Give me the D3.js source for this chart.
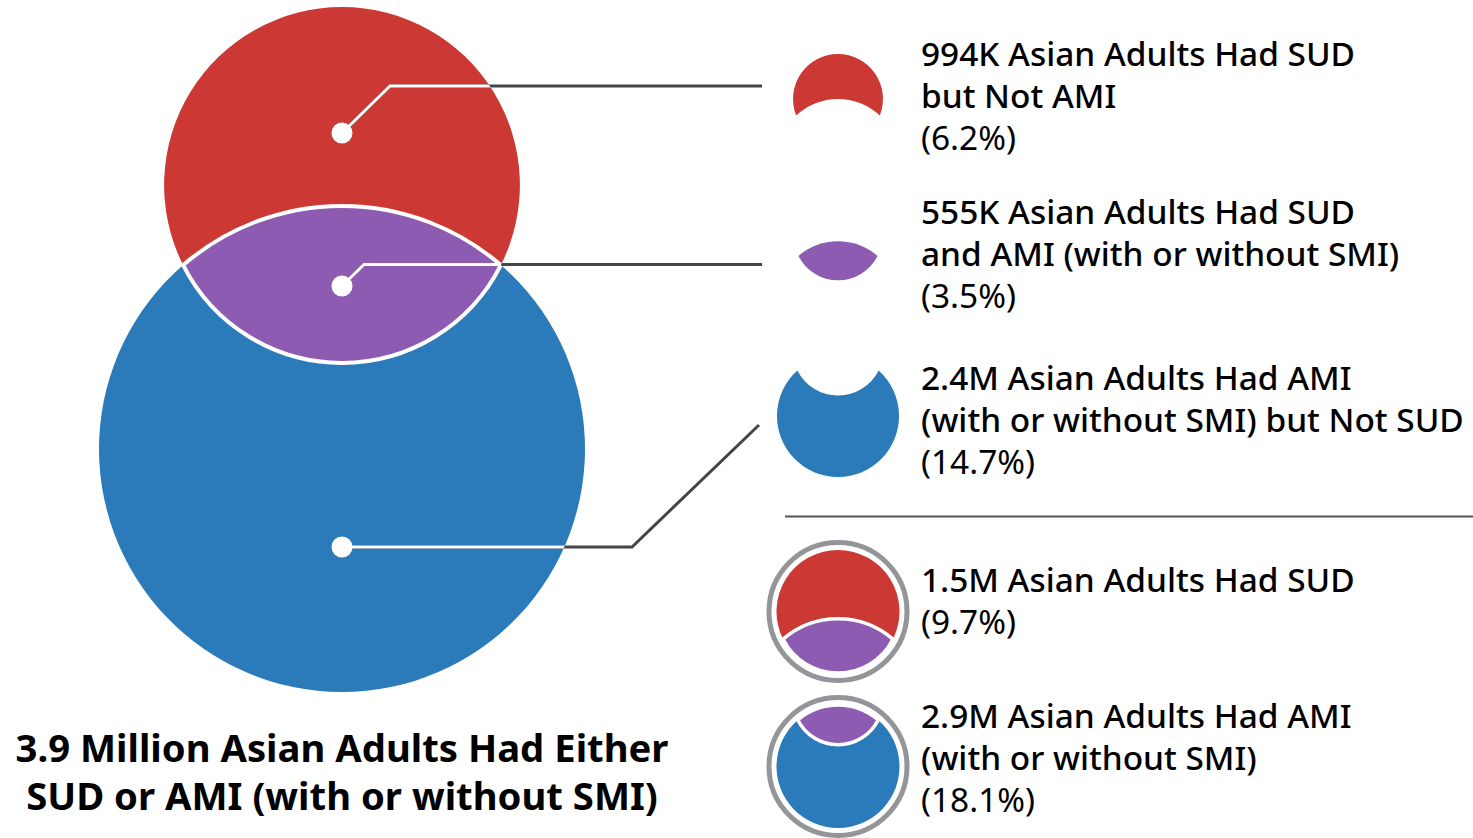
<!DOCTYPE html>
<html>
<head>
<meta charset="utf-8">
<script src="https://cdn.jsdelivr.net/npm/d3@7"></script>
<style>
  html, body { margin: 0; padding: 0; background: #fff; }
  svg { display: block; }
  text { font-family: "Noto Sans", "Open Sans", sans-serif; fill: #000; }
</style>
</head>
<body>
<script>
// ---------------- data ----------------
const groupNames   = ["SUD but Not AMI", "SUD and AMI", "AMI but Not SUD", "SUD", "AMI"];
const groupCounts  = ["994K", "555K", "2.4M", "1.5M", "2.9M"];
const groupPercent = [6.2, 3.5, 14.7, 9.7, 18.1];
const legendLines = [
  ["994K Asian Adults Had SUD", "but Not AMI"],
  ["555K Asian Adults Had SUD", "and AMI (with or without SMI)"],
  ["2.4M Asian Adults Had AMI", "(with or without SMI) but Not SUD"],
  ["1.5M Asian Adults Had SUD"],
  ["2.9M Asian Adults Had AMI", "(with or without SMI)"]
];
const titleLines = ["3.9 Million Asian Adults Had Either", "SUD or AMI (with or without SMI)"];
const colors = { sudOnly: "#cc3934", both: "#8d5bb1", amiOnly: "#2b7bba" };

// ---------------- setup ----------------
const W = 1473, H = 838;
const svg = d3.select("body").append("svg").attr("width", W).attr("height", H);

const rScale = d3.scaleSqrt().domain([0, groupPercent[4]]).range([0, 243]);
const rSUD = rScale(groupPercent[3]);
const rAMI = rScale(groupPercent[4]);

// geometry of two vertically stacked circles (top circle r1, bottom circle r2, centre distance d)
function venn(cx, cyTop, r1, r2, d) {
  const a = (d * d + r1 * r1 - r2 * r2) / (2 * d);
  const h = Math.sqrt(r1 * r1 - a * a);
  const y = cyTop + a;
  const L = [cx - h, y], R = [cx + h, y];
  const p = (q) => q[0] + "," + q[1];
  return {
    lens: `M${p(L)}A${r1},${r1} 0 0 0 ${p(R)}A${r2},${r2} 0 0 0 ${p(L)}Z`,
    topOnly: `M${p(L)}A${r1},${r1} 0 1 1 ${p(R)}A${r2},${r2} 0 0 0 ${p(L)}Z`,
    bottomOnly: `M${p(L)}A${r1},${r1} 0 0 0 ${p(R)}A${r2},${r2} 0 1 1 ${p(L)}Z`
  };
}

// ---------------- big venn ----------------
const cx = 342, cyRed = 185, dist = 264;
const big = venn(cx, cyRed, rSUD, rAMI, dist);
const gBig = svg.append("g");
gBig.append("path").attr("d", big.topOnly).attr("fill", colors.sudOnly);
gBig.append("path").attr("d", big.bottomOnly).attr("fill", colors.amiOnly);
gBig.append("path").attr("d", big.lens).attr("fill", colors.both)
  .attr("stroke", "#fff").attr("stroke-width", 4);

// leader lines
const leaders = [
  [[342, 133], [390, 86], [762, 86]],
  [[342, 286], [364, 264.5], [762, 264.5]],
  [[342, 547], [632, 547], [759, 425]]
];
const line = d3.line();
svg.append("clipPath").attr("id", "bigClip").selectAll("circle")
  .data([[cyRed, rSUD], [cyRed + dist, rAMI]]).join("circle")
  .attr("cx", cx).attr("cy", d => d[0]).attr("r", d => d[1]);
svg.append("g").selectAll("path").data(leaders).join("path")
  .attr("d", line).attr("fill", "none").attr("stroke", "#454545").attr("stroke-width", 3);
svg.append("g").attr("clip-path", "url(#bigClip)").selectAll("path").data(leaders).join("path")
  .attr("d", line).attr("fill", "none").attr("stroke", "#fff").attr("stroke-width", 3);
svg.append("g").selectAll("circle").data(leaders).join("circle")
  .attr("cx", d => d[0][0]).attr("cy", d => d[0][1]).attr("r", 10.5).attr("fill", "#fff");

// ---------------- title ----------------
const title = svg.append("text").attr("text-anchor", "middle")
  .style("font-weight", 700).style("font-size", "36px");
title.selectAll("tspan").data(titleLines).join("tspan")
  .attr("x", 342).attr("y", (d, i) => 762 + i * 48).text(d => d);

// ---------------- legend icons ----------------
const icx = 838;
const gI = svg.append("g");
// icon 1: SUD but not AMI
const i1 = venn(icx, 99, 45, 61, 61);
gI.append("path").attr("d", i1.topOnly).attr("fill", colors.sudOnly);
// icon 2: lens
const i2 = venn(icx, 236, 44.25, 60.75, 66);
gI.append("path").attr("d", i2.lens).attr("fill", colors.both);
// icon 3: AMI but not SUD
const i3 = venn(icx, 350, 45.5, 61, 66);
gI.append("path").attr("d", i3.bottomOnly).attr("fill", colors.amiOnly);

// icon 4: SUD total (ring)
const ring = "#939598";
const rInner = 61.5;
const k4 = rInner / rSUD;
gI.append("circle").attr("cx", icx).attr("cy", 611.5).attr("r", 69).attr("fill", "none")
  .attr("stroke", ring).attr("stroke-width", 5);
const i4 = venn(icx, 611.5, rSUD * k4, rAMI * k4, dist * k4);
gI.append("path").attr("d", i4.topOnly).attr("fill", colors.sudOnly);
gI.append("path").attr("d", i4.lens).attr("fill", colors.both).attr("stroke", "#fff").attr("stroke-width", 3.5);

// icon 5: AMI total (ring)
const k5 = rInner / rAMI;
gI.append("circle").attr("cx", icx).attr("cy", 766.5).attr("r", 69).attr("fill", "none")
  .attr("stroke", ring).attr("stroke-width", 5);
const i5 = venn(icx, 766.5 - dist * k5, rSUD * k5, rAMI * k5, dist * k5);
gI.append("path").attr("d", i5.bottomOnly).attr("fill", colors.amiOnly);
gI.append("path").attr("d", i5.lens).attr("fill", colors.both).attr("stroke", "#fff").attr("stroke-width", 3.5);

// separator
svg.append("line").attr("x1", 785).attr("x2", W).attr("y1", 516.5).attr("y2", 516.5)
  .attr("stroke", "#555").attr("stroke-width", 2);

// ---------------- legend text ----------------
const firstBaselines = [66, 224, 390, 592, 728];
const lh = 42;
const gT = svg.append("g");
legendLines.forEach((lines, i) => {
  const t = gT.append("text").attr("class", "leg").style("font-size", "30px");
  lines.forEach((s, j) => {
    t.append("tspan").attr("x", 921).attr("y", firstBaselines[i] + j * lh)
      .style("font-weight", 500).text(s);
  });
  t.append("tspan").attr("x", 921).attr("y", firstBaselines[i] + lines.length * lh)
    .style("font-weight", 400).text("(" + groupPercent[i] + "%)");
});

// fit font sizes to the reference line widths
(function fit() {
  const longest = gT.selectAll("tspan").filter(function () { return this.textContent === legendLines[2][1]; }).node();
  const w = longest.getComputedTextLength();
  const fs = 30 * 543 / w;
  gT.selectAll("text").style("font-size", fs + "px");
  const tl = title.select("tspan").node().getComputedTextLength();
  title.style("font-size", (36 * 653 / tl) + "px");
})();
</script>
</body>
</html>
